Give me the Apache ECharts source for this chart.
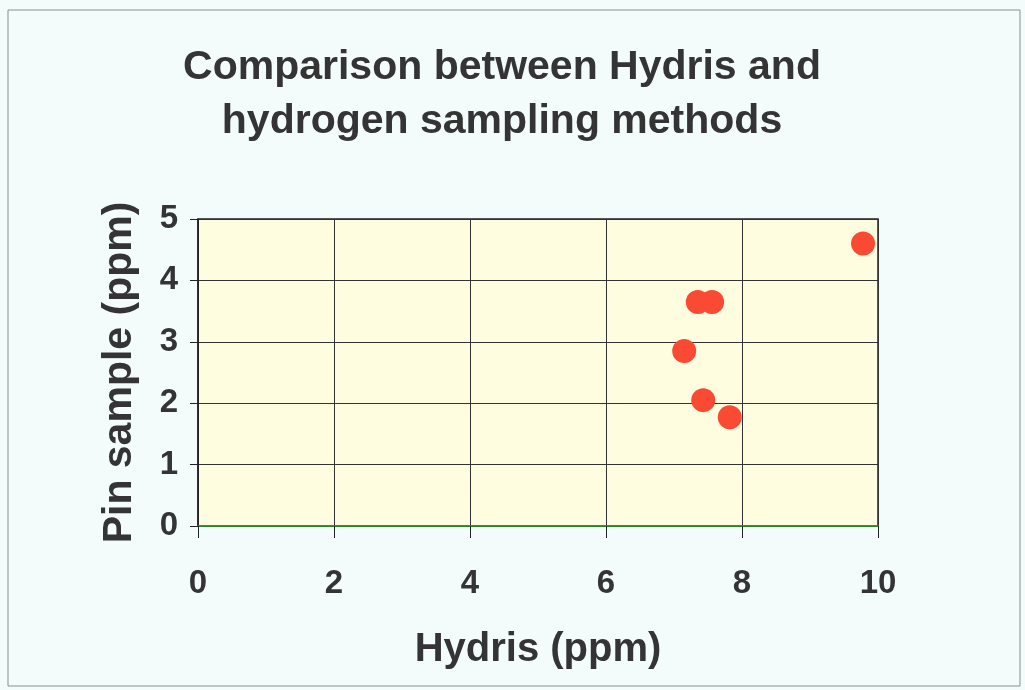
<!DOCTYPE html>
<html><head><meta charset="utf-8">
<script src="https://cdn.jsdelivr.net/npm/echarts@6/dist/echarts.min.js"></script>
<style>html,body{margin:0;padding:0;background:#f3fbfb}#c{width:1025px;height:690px}</style>
</head><body><div id="c"></div>
<script>
var titleText = "Comparison between Hydris and\nhydrogen sampling methods";
var xName = "Hydris (ppm)";
var yName = "Pin sample (ppm)";
var hydris = [9.78, 7.35, 7.56, 7.15, 7.43, 7.82];
var pin = [4.6, 3.65, 3.65, 2.85, 2.05, 1.77];
var xTicks = [0, 2, 4, 6, 8, 10];
var yTicks = [0, 1, 2, 3, 4, 5];

var points = hydris.map(function(v, i){ return [v, pin[i]]; });
var chart = echarts.init(document.getElementById('c'));
var font = '"Liberation Sans", Arial, sans-serif';
chart.setOption({
  backgroundColor: '#f3fbfb',
  animation: false,
  graphic: [{type:'rect', shape:{x:8,y:10,width:1012,height:676}, style:{fill:'none', stroke:'#8a8f8f', lineWidth:1}, z:-1}],
  title: {text: titleText, left: 497, textAlign: 'center', top: 36,
    textStyle:{fontFamily:font, fontWeight:'bold', fontSize:41, lineHeight:54, color:'#343434'}},
  grid: {left:198, right:147, top:219, bottom:164, show:true, backgroundColor:'#fffddf', borderColor:'#222', borderWidth:1.5},
  xAxis: {type:'value', min:xTicks[0], max:xTicks[xTicks.length-1], interval:2,
    name:xName, nameLocation:'middle', nameGap:104,
    nameTextStyle:{fontFamily:font, fontWeight:'bold', fontSize:40, color:'#343434'},
    axisLine:{show:true, onZero:false, lineStyle:{color:'#2e9e35', width:1.5}},
    axisTick:{show:true, length:12, lineStyle:{color:'#222'}},
    axisLabel:{margin:41, fontFamily:font, fontWeight:'bold', fontSize:33, color:'#343434'},
    splitLine:{show:true, lineStyle:{color:'#333', width:1}}},
  yAxis: {type:'value', min:yTicks[0], max:yTicks[yTicks.length-1], interval:1,
    name:yName, nameLocation:'middle', nameGap:58, nameRotate:90,
    nameTextStyle:{fontFamily:font, fontWeight:'bold', fontSize:41, color:'#343434'},
    axisLine:{show:true, lineStyle:{color:'#222', width:1.5}},
    axisTick:{show:true, length:8, lineStyle:{color:'#222'}},
    axisLabel:{margin:20, fontFamily:font, fontWeight:'bold', fontSize:33, color:'#343434'},
    splitLine:{show:true, lineStyle:{color:'#333', width:1}}},
  series: [{type:'scatter', data:points, symbol:'circle', symbolSize:24,
    itemStyle:{color:'#fa4a33', opacity:1}}]
});
</script></body></html>
